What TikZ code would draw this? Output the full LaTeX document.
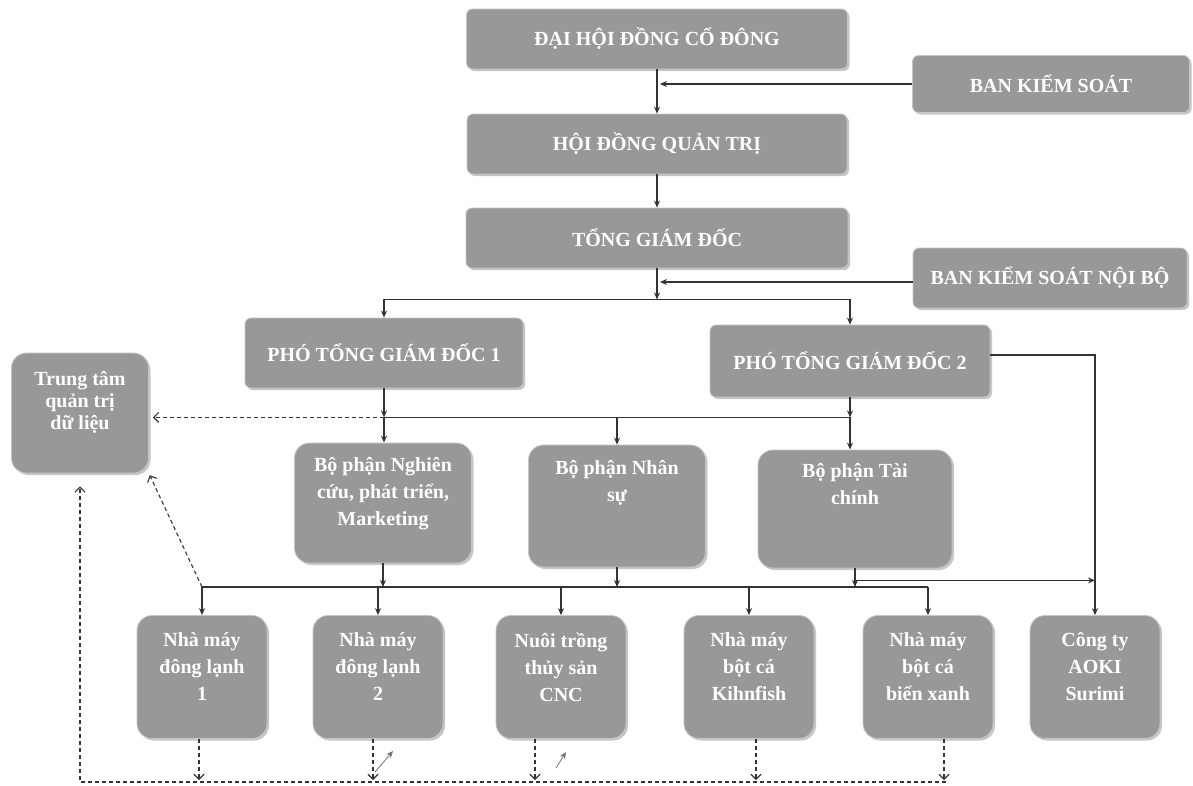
\documentclass[tikz,border=0pt]{standalone}
\usepackage{fontspec}
\setmainfont{Liberation Serif}
\usetikzlibrary{arrows.meta,shadows}
\definecolor{boxgray}{RGB}{152,152,152}
\def\dept#1{\parbox[t][92pt][t]{170pt}{\centering #1}}
\def\unit#1{\parbox[t][89pt][t]{124pt}{\centering #1}}

\begin{document}
\begin{tikzpicture}[x=1pt,y=-1pt]
	\tikzstyle{box}=[rectangle, rounded corners=6pt, fill=boxgray, draw=gray!45, line width=0.8pt,
	  text=white, inner sep=0pt, font=\fontsize{20pt}{27pt}\selectfont\bfseries,
	  drop shadow={shadow xshift=2pt, shadow yshift=-2pt, fill=gray!45, opacity=1}]
	\tikzstyle{head box}=[box, minimum height=60pt]
	\tikzstyle{unit box}=[box, rounded corners=15pt, minimum width=130pt, minimum height=123pt]
	\tikzstyle{dept box}=[box, rounded corners=15pt, minimum height=120pt]
	\tikzstyle{line}=[draw=black!80, line width=1.1pt]
	\tikzstyle{conn}=[line, -{Stealth[length=7pt,width=6pt]}]
	\tikzstyle{dconn}=[line, dash pattern=on 4pt off 3pt, -{Straight Barb[length=5pt,width=10pt]}]

	\useasboundingbox (0,0) rectangle (1193,785);
	\fill[white] (0,0) rectangle (1193,785);

	% Draw head boxes
	\node[head box, minimum width=381pt] (dhd) at (657,39) {ĐẠI HỘI ĐỒNG CỔ ĐÔNG};
	\node[head box, minimum width=277pt, minimum height=57pt] (bks) at (1051,84) {BAN KIỂM SOÁT};
	\node[head box, minimum width=380pt] (hdqt) at (657,144) {HỘI ĐỒNG QUẢN TRỊ};
	\node[head box, minimum width=382pt] (tgd) at (657,238) {TỔNG GIÁM ĐỐC};
	\node[head box, minimum width=274pt] (bksnb) at (1050,278) {BAN KIỂM SOÁT NỘI BỘ};
	\node[head box, minimum width=278pt, minimum height=70pt] (ptgd1) at (384,353) {PHÓ TỔNG GIÁM ĐỐC 1};
	\node[head box, minimum width=280pt, minimum height=72pt] (ptgd2) at (850,361) {PHÓ TỔNG GIÁM ĐỐC 2};

	% Draw data centre
	\node[unit box, minimum width=137pt, minimum height=120pt, font=\fontsize{20pt}{22pt}\selectfont\bfseries] (ttq) at (80,413)
	  {\parbox[t][84pt][t]{130pt}{\centering Trung tâm\\ quản trị\\ dữ liệu}};

	% Draw departments
	\node[dept box, minimum width=177pt] (bpnc) at (383,503) {\dept{Bộ phận Nghiên\\ cứu, phát triển,\\ Marketing}};
	\node[dept box, minimum width=177pt, minimum height=122pt] (bpns) at (617,506) {\dept{Bộ phận Nhân\\ sự}};
	\node[dept box, minimum width=194pt, minimum height=118pt] (bptc) at (855,509) {\dept{Bộ phận Tài\\ chính}};

	% Draw units
	\foreach \name/\x/\txt in {nm1/202/{Nhà máy\\ đông lạnh\\ 1}, nm2/378/{Nhà máy\\ đông lạnh\\ 2},
	  ntts/561/{Nuôi trồng\\ thủy sản\\ CNC}, kihn/749/{Nhà máy\\ bột cá\\ Kihnfish},
	  bx/928/{Nhà máy\\ bột cá\\ biển xanh}, aoki/1095/{Công ty\\ AOKI\\ Surimi}}
	\node[unit box] (\name) at (\x,677) {\unit{\txt}};

	% Connect head boxes
	\draw[conn] (dhd.south) -- (hdqt.north);
	\draw[conn, shorten >=3pt] (bks.west) -- (bks.west -| dhd.south);
	\draw[conn] (hdqt.south) -- (tgd.north);
	\path (tgd.south) ++(0,31) coordinate (gd);
	\draw[conn] (tgd.south) -- (gd);
	\draw[conn, shorten >=3pt] ([yshift=-4pt]bksnb.west) -- ([yshift=-4pt]bksnb.west -| tgd.south);
	\draw[conn] (gd) -| (ptgd1.north);
	\draw[conn] (gd) -| (ptgd2.north);

	% Connect vice directors and departments
	\path (ptgd1.south) ++(0,29) coordinate (p1);
	\coordinate (p2) at (p1 -| ptgd2.south);
	\draw[conn] (ptgd1.south) -- (p1);
	\draw[conn] (ptgd2.south) -- (p2);
	\draw[line] (p1) -- (p2);
	\draw[conn] (p1) -- (p1 |- bpnc.north);
	\draw[conn] (p1 -| bpns.north) -- (bpns.north);
	\draw[conn] (p2) -- (p2 |- bptc.north);
	\draw[dconn, shorten >=4pt] (p1) -- (p1 -| ttq.east);
	\draw[conn] ([yshift=6pt]ptgd2.east) -| (aoki.north);

	% Connect departments and units
	\coordinate (u) at (0,587);
	\foreach \name in {bpnc,bpns,bptc}
	\draw[conn] (\name.south) -- (\name.south |- u);
	\draw[line] (nm1.north |- u) -- (bx.north |- u);
	\foreach \name in {nm1,nm2,ntts,kihn,bx}
	\draw[conn] (\name.north |- u) -- (\name.north);
	\path (bptc.south) ++(0,12) coordinate (t1);
	\draw[conn] (t1) -- (t1 -| aoki.north);

	% Report lines to the data centre
	\draw[dconn, shorten >=2pt] (nm1.north |- u) -- (ttq.south east);
	\coordinate (d) at (0,782);
	\foreach \name/\dx in {nm1/-3, nm2/-5, ntts/-26, kihn/7, bx/16}
	\draw[dconn, shorten >=2pt] ([xshift=\dx pt]\name.south) -- ([xshift=\dx pt]\name.south |- d);
	\draw[dconn, shorten >=13pt] ([xshift=18pt]bx.south |- d) -- (ttq.south |- d) -- (ttq.south);

	% Stray marks
	\coordinate (m1) at (375,772); \coordinate (m1t) at (393,751);
	\coordinate (m2) at (556,768); \coordinate (m2t) at (566,752);
	\draw[conn, line width=0.8pt, draw=black!55] (m1) -- (m1t);
	\draw[conn, line width=0.8pt, draw=black!55] (m2) -- (m2t);
\end{tikzpicture}
\end{document}
